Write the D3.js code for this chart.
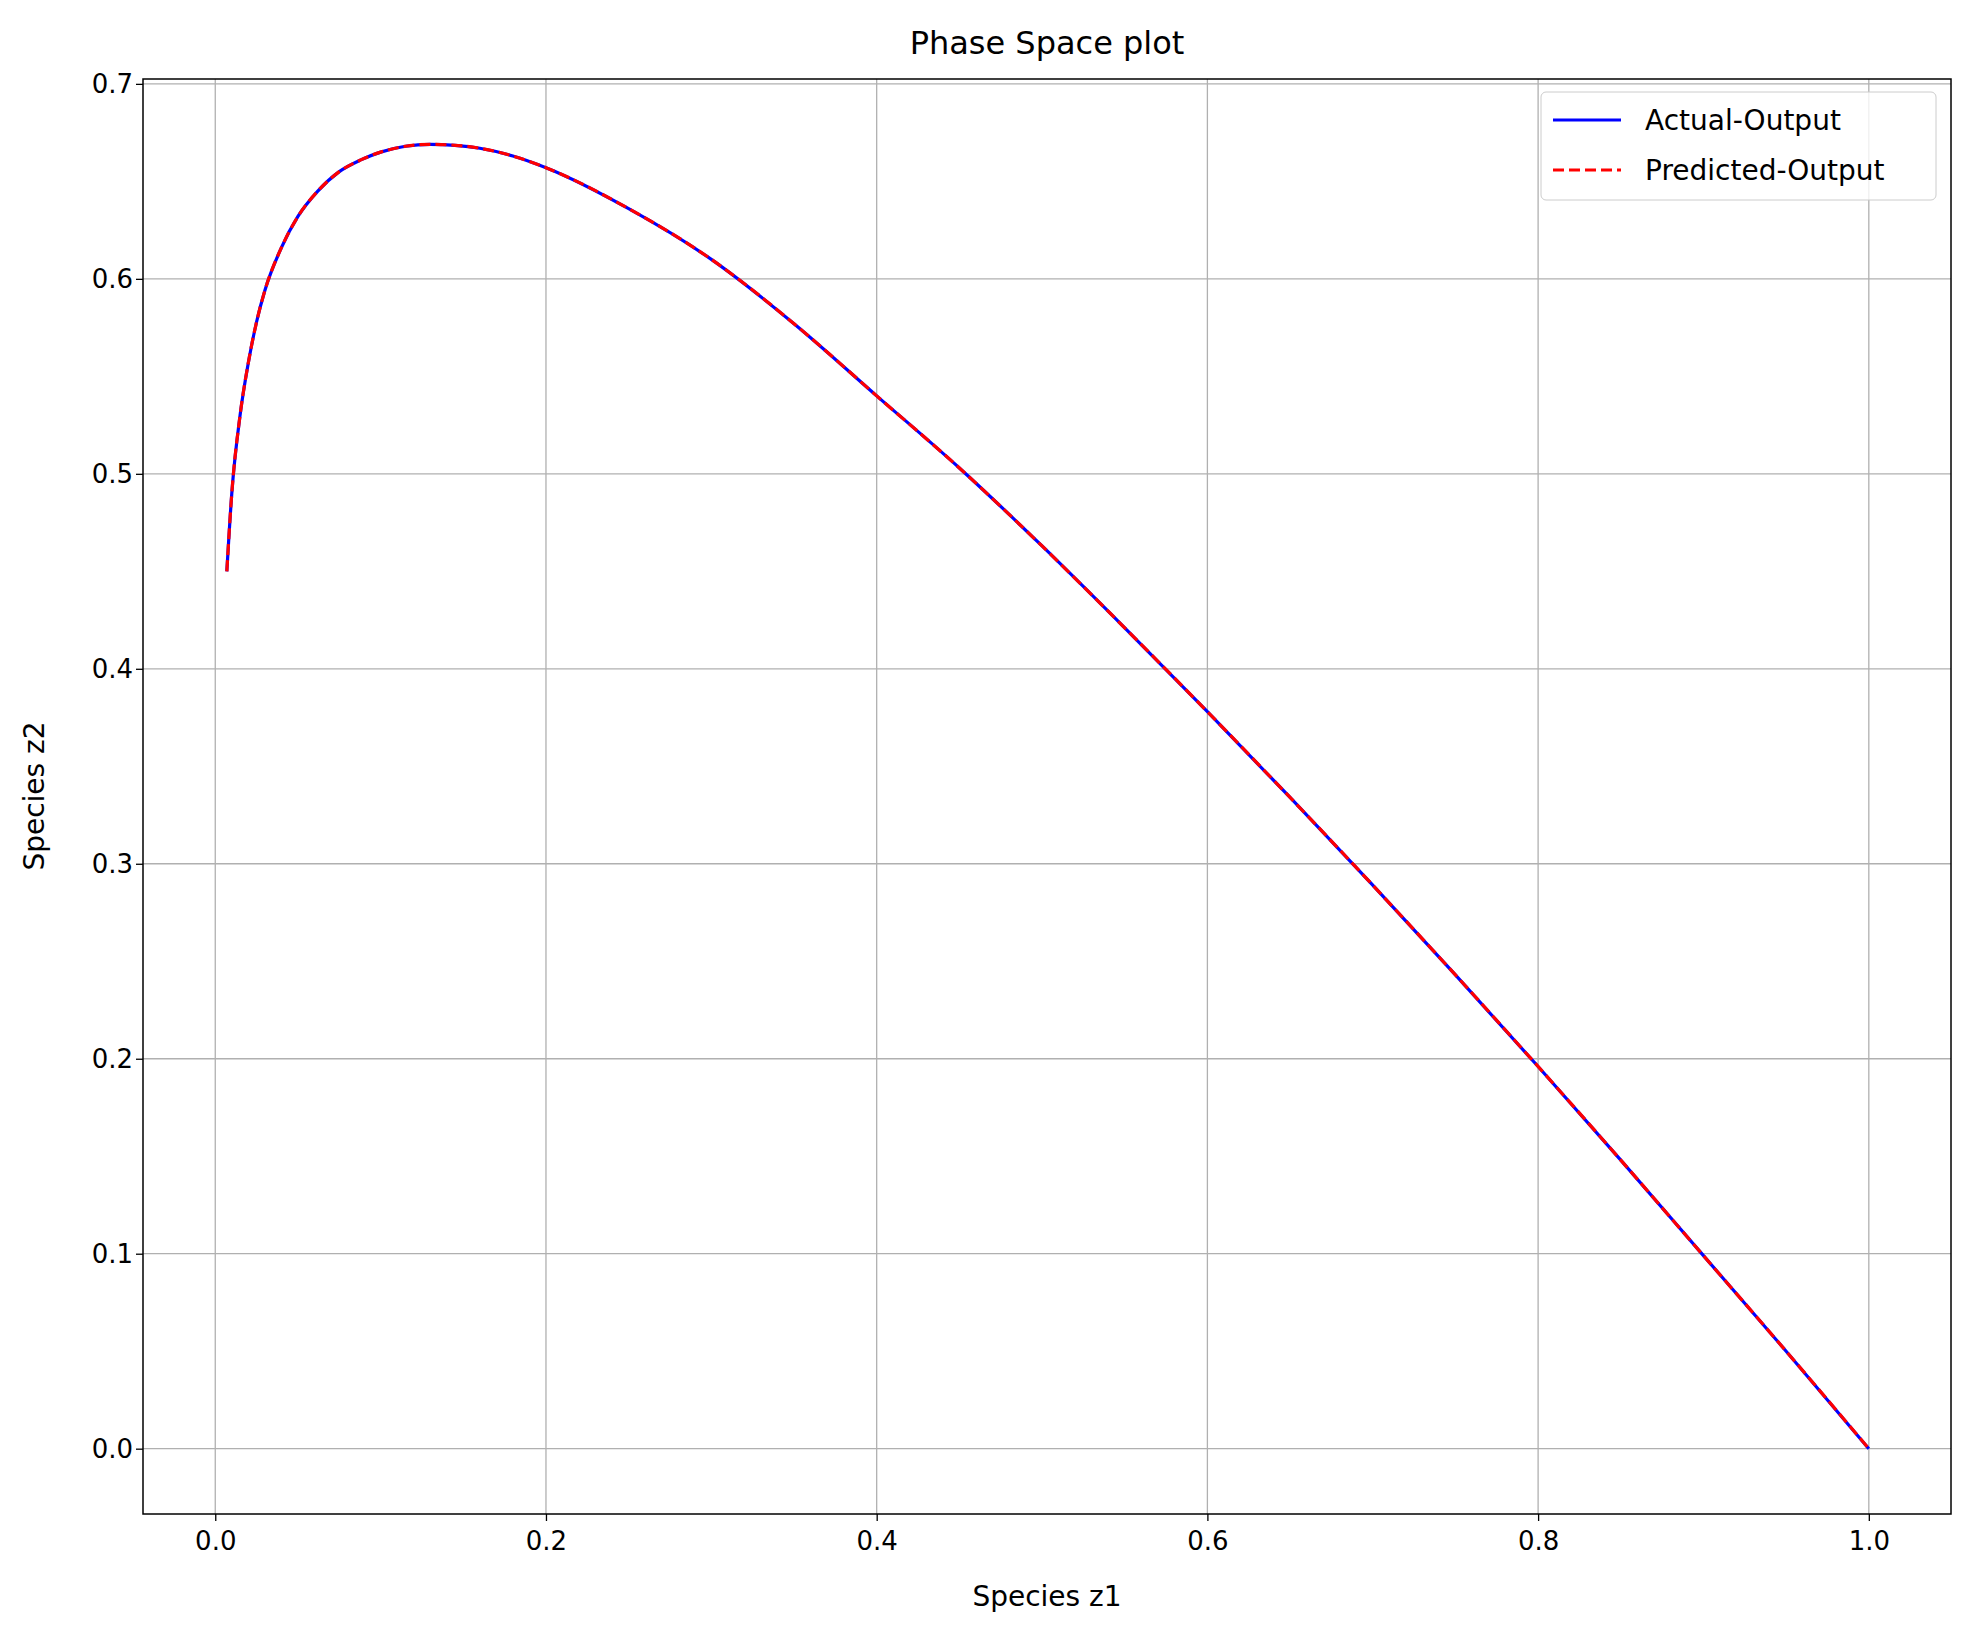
<!DOCTYPE html><html><head><meta charset="utf-8"><script src="https://cdn.jsdelivr.net/npm/d3@7"></script>
<style>body{margin:0;background:#fff}text{font-family:"DejaVu Sans",sans-serif;fill:#000}</style></head><body><svg id="c" width="1977" height="1628"></svg>
<script>
const z1=[0.007,0.01,0.015,0.02,0.025,0.03,0.04,0.05,0.062,0.075,0.088,0.1,0.115,0.13,0.145,0.16,0.18,0.2,0.25,0.3,0.35,0.4,0.45,0.5,0.55,0.6,0.65,0.7,0.75,0.8,0.85,0.9,0.95,1.0];
const z2=[0.45,0.49,0.53,0.557,0.578,0.594,0.616,0.632,0.645,0.655,0.661,0.665,0.668,0.669,0.6685,0.667,0.663,0.657,0.636,0.610,0.577,0.540,0.503,0.463,0.421,0.378,0.334,0.289,0.243,0.196,0.148,0.099,0.050,0.0];
const xTicks=[0,0.2,0.4,0.6,0.8,1.0], yTicks=[0,0.1,0.2,0.3,0.4,0.5,0.6,0.7];
const seriesNames=["Actual-Output","Predicted-Output"];
const L=143,R=1951,T=79,B=1514;
const svg=d3.select("#c");
const x=d3.scaleLinear().domain([-0.0437,1.0497]).range([L,R]);
const y=d3.scaleLinear().domain([-0.0335,0.7025]).range([B,T]);
const g=svg.append("g");
xTicks.forEach(t=>g.append("line").attr("x1",x(t)).attr("x2",x(t)).attr("y1",T).attr("y2",B).attr("stroke","#b0b0b0").attr("stroke-width",1.3));
yTicks.forEach(t=>g.append("line").attr("y1",y(t)).attr("y2",y(t)).attr("x1",L).attr("x2",R).attr("stroke","#b0b0b0").attr("stroke-width",1.3));
const xa=svg.append("g").attr("transform",`translate(0,${B})`).call(d3.axisBottom(x).tickValues(xTicks).tickFormat(d3.format(".1f")).tickSize(7).tickSizeOuter(0));
const ya=svg.append("g").attr("transform",`translate(${L},0)`).call(d3.axisLeft(y).tickValues(yTicks).tickFormat(d3.format(".1f")).tickSize(7).tickSizeOuter(0));
[xa,ya].forEach(a=>{a.select(".domain").remove();a.selectAll("text").attr("font-size",26).style("font-family","DejaVu Sans");a.selectAll("line").attr("stroke-width",1.3);});
xa.selectAll("text").attr("dy","1.0em");
const pts=z1.map((v,i)=>[v,z2[i]]);
const line=d3.line().x(d=>x(d[0])).y(d=>y(d[1])).curve(d3.curveMonotoneX);
svg.append("path").attr("d",line(pts)).attr("fill","none").attr("stroke","#0000ff").attr("stroke-width",3.2);
svg.append("path").attr("d",line(pts)).attr("fill","none").attr("stroke","#ff0000").attr("stroke-width",3.2).attr("stroke-dasharray","11,5");
svg.append("rect").attr("x",L).attr("y",T).attr("width",R-L).attr("height",B-T).attr("fill","none").attr("stroke","#000").attr("stroke-width",1.5);
svg.append("text").attr("x",(L+R)/2).attr("y",54).attr("text-anchor","middle").attr("font-size",32).text("Phase Space plot");
svg.append("text").attr("x",(L+R)/2).attr("y",1606).attr("text-anchor","middle").attr("font-size",28).text("Species z1");
svg.append("text").attr("transform","translate(44,796) rotate(-90)").attr("text-anchor","middle").attr("font-size",28).text("Species z2");
const lg=svg.append("g");
lg.append("rect").attr("x",1541).attr("y",92).attr("width",395).attr("height",108).attr("rx",5).attr("fill","#fff").attr("fill-opacity",0.8).attr("stroke","#ccc");
seriesNames.forEach((n,i)=>{const yy=120+i*50;
lg.append("line").attr("x1",1553).attr("x2",1621).attr("y1",yy).attr("y2",yy).attr("stroke",i?"#ff0000":"#0000ff").attr("stroke-width",3.2).attr("stroke-dasharray",i?"11,5":null);
lg.append("text").attr("x",1645).attr("y",yy+10).attr("font-size",28).text(n);});
</script></body></html>
